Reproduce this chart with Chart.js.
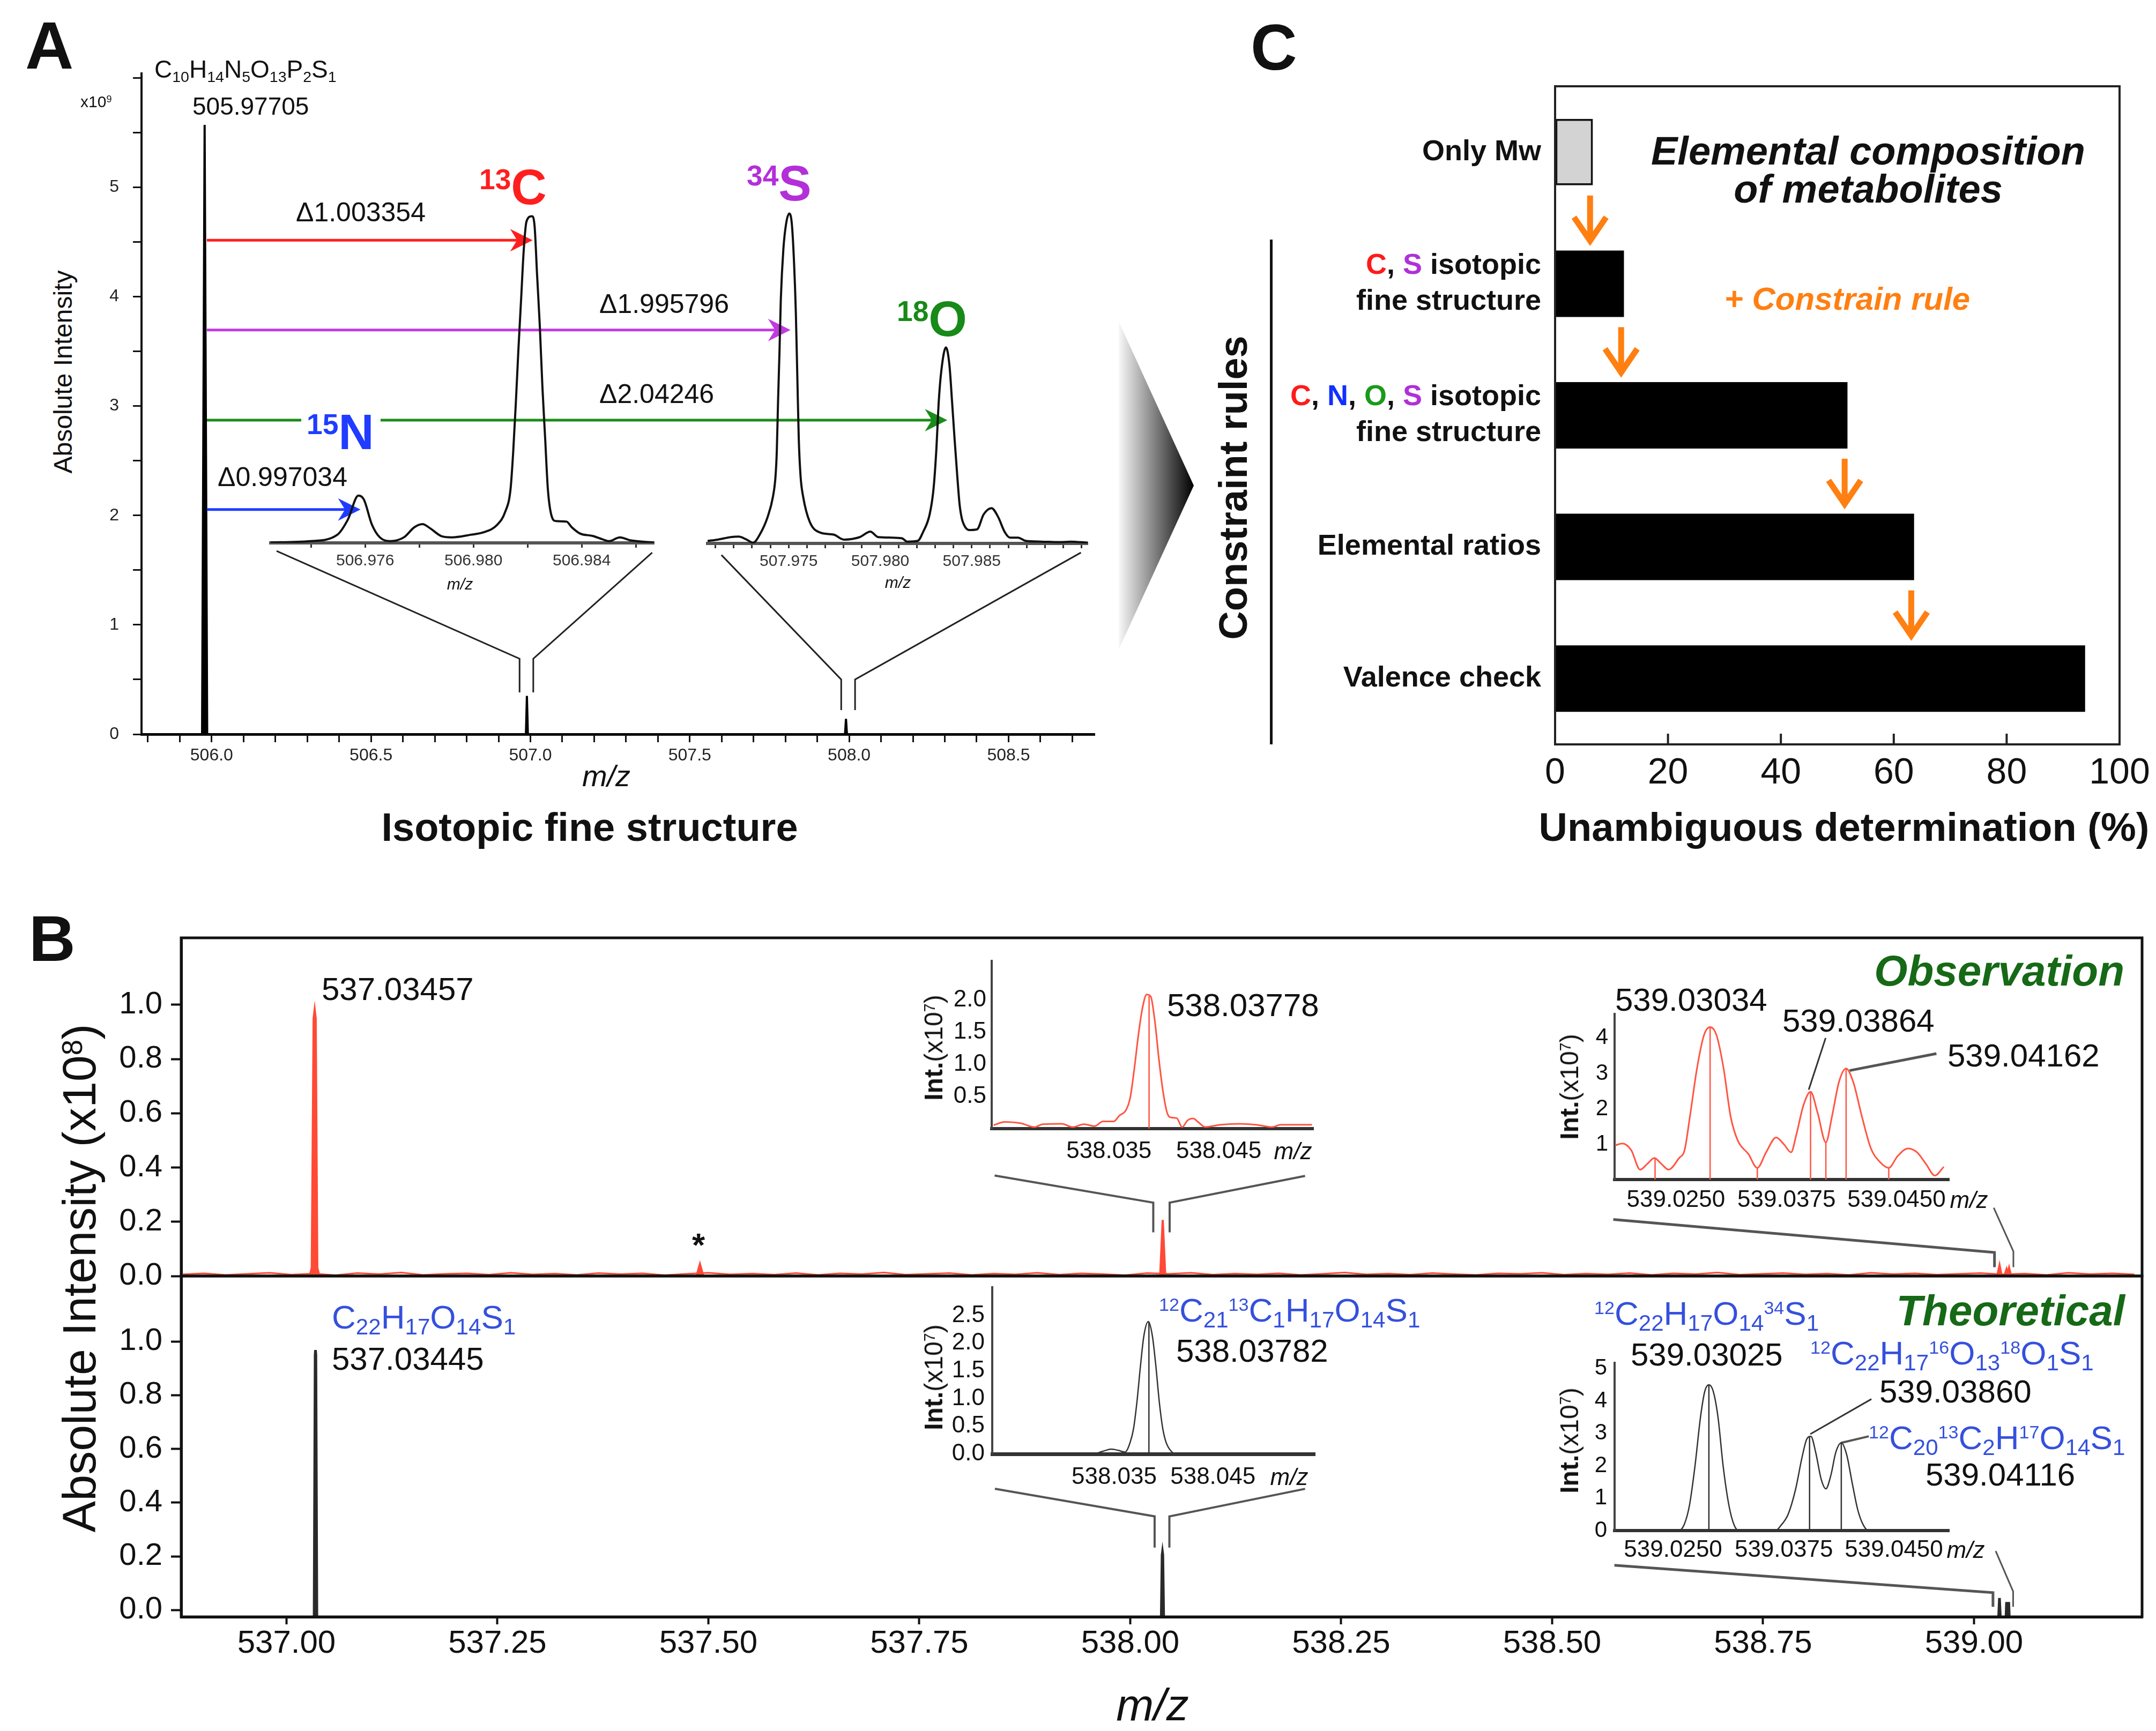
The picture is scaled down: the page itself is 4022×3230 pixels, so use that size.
<!DOCTYPE html>
<html><head><meta charset="utf-8"><title>Isotopic fine structure</title>
<script src="https://cdn.jsdelivr.net/npm/chart.js@4.4.1/dist/chart.umd.min.js"></script>
<style>
html,body{margin:0;padding:0;background:#fff;}
#page{position:relative;width:4022px;height:3230px;overflow:hidden;background:#fff;font-family:"Liberation Sans",Arial,Helvetica,sans-serif;color:#111;}
#page canvas{position:absolute;}
.t{position:absolute;white-space:nowrap;line-height:1;z-index:10;}
.deco{position:absolute;z-index:1;}
</style></head>
<body><div id="page"></div>
<script>
const FONT = '"Liberation Sans", Arial, Helvetica, sans-serif';

// ================= DATA =================
// ---- Panel A : main spectrum ----
const specA_mz  = [505.78, 505.970, 505.978, 505.986, 506.986, 506.989, 506.992, 507.987, 507.990, 507.993, 508.77];
const specA_int = [0, 0, 5.57, 0, 0, 0.35, 0, 0, 0.14, 0, 0];
const tickA_xLabeled = [506.0, 506.5, 507.0, 507.5, 508.0, 508.5];
const tickA_yLabeled = [0, 1, 2, 3, 4, 5];
// isotope arrows (start at the monoisotopic peak)
const arrowA_start = 505.985;
const arrowA_end   = [507.007, 507.816, 508.308, 506.467];
const arrowA_y     = [4.515, 3.695, 2.870, 2.054];
const arrowA_color = ['#ff1e1e', '#c03ae0', '#1a8c1a', '#1e3cff'];
// inset 1 (15N / 13C)
const insA1_mz  = [506.97250, 506.97398, 506.97497, 506.97536, 506.97575, 506.97595, 506.97625, 506.97654, 506.97694, 506.97743, 506.97782, 506.97812, 506.97841, 506.97881, 506.97920, 506.97989, 506.98038, 506.98088, 506.98117, 506.98137, 506.98147, 506.98157, 506.98166, 506.98176, 506.98186, 506.98196, 506.98216, 506.98226, 506.98235, 506.98245, 506.98255, 506.98265, 506.98275, 506.98290, 506.98304, 506.98344, 506.98363, 506.98393, 506.98442, 506.98482, 506.98501, 506.98541, 506.98580, 506.98666];
const insA1_int = [0.15, 0.54, 2.48, 7.12, 14.47, 13.31, 5.57, 1.70, 0.54, 1.70, 4.80, 5.73, 4.41, 2.09, 1.70, 2.48, 3.25, 5.57, 9.44, 16.41, 28.0, 43.5, 59.0, 74.4, 89.9, 98.4, 100, 96.9, 82.2, 66.7, 47.4, 31.9, 16.4, 7.9, 6.7, 6.5, 4.8, 2.9, 2.1, 0.93, 0.54, 1.70, 0.77, 0.15];
const tickA1_labeled = [506.976, 506.980, 506.984];
// inset 2 (34S / 18O)
const insA2_mz  = [507.97057, 507.97112, 507.97183, 507.97227, 507.97270, 507.97306, 507.97342, 507.97385, 507.97414, 507.97428, 507.97435, 507.97442, 507.97450, 507.97457, 507.97471, 507.97486, 507.97503, 507.97517, 507.97529, 507.97539, 507.97547, 507.97555, 507.97565, 507.97579, 507.97615, 507.97673, 507.97745, 507.97802, 507.97888, 507.97946, 507.97989, 507.98061, 507.98119, 507.98147, 507.98205, 507.98234, 507.98270, 507.98291, 507.98306, 507.98320, 507.98334, 507.98359, 507.98378, 507.98392, 507.98406, 507.98421, 507.98435, 507.98464, 507.98493, 507.98529, 507.98565, 507.98608, 507.98644, 507.98680, 507.98709, 507.98752, 507.98795, 507.98881, 507.98982, 507.99040, 507.99133];
const insA2_int = [0.77, 1.16, 1.93, 2.09, 1.16, 0.23, 2.7, 8.1, 14.3, 20.5, 28.2, 43.7, 59.2, 74.7, 90.1, 97.9, 101.0, 97.9, 86.3, 70.8, 51.5, 32.1, 20.5, 14.3, 6.6, 3.3, 2.7, 1.16, 1.93, 3.6, 1.93, 1.78, 1.55, 0.54, 0.77, 3.48, 8.9, 16.6, 28.2, 43.7, 53.0, 60.0, 54.6, 43.7, 32.1, 20.5, 11.2, 5.0, 4.1, 4.3, 8.9, 10.8, 8.1, 3.5, 1.78, 1.78, 0.77, 0.54, 0.39, 0.54, 0.23];
const tickA2_labeled = [507.975, 507.980, 507.985];
// zoom cones (main-axis coordinates)
const coneA = [
  [[506.2037, 1.675], [506.9660, 0.690], [506.9660, 0.382]],
  [[507.3820, 1.660], [507.0090, 0.690], [507.0090, 0.382]],
  [[507.5993, 1.638], [507.9750, 0.500], [507.9750, 0.220]],
  [[508.7270, 1.660], [508.0185, 0.500], [508.0185, 0.220]]
];

// ---- Panel C ----
const catLines = [['Only Mw'], ['C, S isotopic', 'fine structure'], ['C, N, O, S isotopic', 'fine structure'], ['Elemental ratios'], ['Valence check']];
const barVals   = [6.7, 12.2, 51.8, 63.6, 93.9];
const barColors = ['#d3d3d3', '#000', '#000', '#000', '#000'];
const tickC_x   = [0, 20, 40, 60, 80, 100];

// ---- Panel B : full spectra ----
const obs_mz  = [537.0275, 537.0300, 537.0322, 537.0334, 537.0346, 537.0365, 537.0390, 537.4860, 537.4900, 537.4940, 538.0355, 538.0385, 538.0415, 539.0275, 539.0303, 539.0325, 539.0365, 539.0386, 539.0400, 539.0416, 539.0440];
const obs_int = [0, 0.03, 0.95, 0.982, 0.95, 0.03, 0, 0, 0.044, 0, 0, 0.207, 0, 0, 0.04, 0.005, 0.005, 0.025, 0.01, 0.03, 0];
const noise_start = 536.876, noise_step = 0.026;
const noise_int = [0.006,0.010,0.004,0.008,0.012,0.005,0.009,0.003,0.011,0.007,0.013,0.004,0.008,0.010,0.005,0.012,0.006,0.009,0.004,0.011,0.007,0.010,0.003,0.008,0.012,0.006,0.009,0.005,0.011,0.004,0.010,0.007,0.013,0.005,0.008,0.011,0.004,0.009,0.006,0.012,0.005,0.010,0.007,0.003,0.011,0.008,0.012,0.005,0.009,0.006,0.010,0.004,0.008,0.013,0.006,0.009,0.005,0.011,0.007,0.004,0.010,0.008,0.012,0.005,0.009,0.006,0.011,0.004,0.010,0.007,0.013,0.005,0.008,0.011,0.006,0.009,0.004,0.012,0.007,0.010,0.005,0.008,0.011,0.006,0.009,0.004,0.012,0.007,0.010,0.006];
// theoretical sticks (null = break between peaks)
const theo_mz  = [537.0328, 537.0340, 537.0344, 537.0348, 537.0360, 537.5, 538.0368, 538.0378, 538.0382, 538.0386, 538.0396, 538.5, 539.0292, 539.0302, 539.0312, 539.0350, 539.0380, 539.0386, 539.0392, 539.0400, 539.0406, 539.0412, 539.0418];
const theo_int = [-0.025, 0.95, 0.968, 0.95, -0.025, null, -0.025, 0.205, 0.215, 0.205, -0.025, null, -0.025, 0.045, -0.025, null, -0.025, 0.03, -0.025, null, -0.025, 0.03, -0.025];
const tickB_x = [537.00, 537.25, 537.50, 537.75, 538.00, 538.25, 538.50, 538.75, 539.00];
const tickB_y = [0, 0.2, 0.4, 0.6, 0.8, 1.0];
const coneObs = [
  [[537.8393, 0.3704], [538.0273, 0.2705], [538.0273, 0.161]],
  [[538.2072, 0.3692], [538.0467, 0.2705], [538.0467, 0.161]],
  [[538.5725, 0.2087], [539.0243, 0.0869], [539.0243, 0.0328]],
  [[539.0234, 0.2517], [539.0467, 0.0908], [539.0467, 0.0328]]
];
const coneTheo = [
  [[537.8396, 0.4515], [538.0289, 0.3489], [538.0289, 0.2329]],
  [[538.2072, 0.4515], [538.0464, 0.3489], [538.0464, 0.2329]],
  [[538.5738, 0.1671], [539.0225, 0.0653], [539.0225, 0.0124]],
  [[539.0257, 0.2200], [539.0464, 0.0695], [539.0464, 0.0124]]
];
// ---- Panel B insets ----
const obs1_mz  = [538.02076, 538.02197, 538.02379, 538.02530, 538.02621, 538.02833, 538.02955, 538.03076, 538.03197, 538.03288, 538.03409, 538.03470, 538.03545, 538.03591, 538.03636, 538.03682, 538.03727, 538.03773, 538.03818, 538.03864, 538.03909, 538.03955, 538.04000, 538.04045, 538.04106, 538.04167, 538.04227, 538.04288, 538.04348, 538.04424, 538.04500, 538.04591, 538.04803, 538.04985, 538.05167, 538.05257, 538.05470, 538.05606];
const obs1_int = [0.054, 0.105, 0.084, 0.024, 0.069, 0.075, 0.024, 0.069, 0.039, 0.113, 0.113, 0.202, 0.291, 0.484, 0.929, 1.464, 1.879, 2.087, 2.057, 1.672, 1.078, 0.573, 0.247, 0.173, 0.164, 0.024, 0.128, 0.158, 0.098, 0.024, 0.039, 0.06, 0.075, 0.06, 0.024, 0.06, 0.06, 0.06];
const obs1_stick_mz = [538.0380], obs1_stick_h = [2.06];
const obs2_mz  = [539.02246, 539.02306, 539.02379, 539.02453, 539.02512, 539.02571, 539.02630, 539.02689, 539.02777, 539.02822, 539.02866, 539.02925, 539.02983, 539.03034, 539.03087, 539.03146, 539.03205, 539.03264, 539.03352, 539.03426, 539.03499, 539.03582, 539.03647, 539.03706, 539.03750, 539.03809, 539.03868, 539.03927, 539.03995, 539.04045, 539.04104, 539.04163, 539.04222, 539.04295, 539.04369, 539.04443, 539.04517, 539.04590, 539.04678, 539.04752, 539.04826, 539.04900, 539.04974];
const obs2_int = [0.967, 1.02, 0.83, 0.28, 0.44, 0.61, 0.44, 0.28, 0.61, 0.83, 1.77, 3.14, 4.08, 4.31, 4.08, 3.14, 1.77, 1.10, 0.72, 0.33, 0.77, 1.19, 0.995, 0.77, 1.27, 2.10, 2.48, 1.88, 1.05, 1.77, 2.76, 3.14, 2.76, 1.77, 0.88, 0.50, 0.33, 0.66, 0.88, 0.77, 0.44, 0.11, 0.36];
const obs2_stick_mz = [539.02577, 539.03034, 539.03426, 539.03868, 539.03995, 539.04163, 539.04517];
const obs2_stick_h  = [0.61, 4.31, 0.33, 2.48, 1.05, 3.14, 0.33];
const obs2_leaders  = [[[539.03993, 4.0], [539.03853, 2.54]], [[539.04913, 3.56], [539.04192, 3.08]]];
const theo1_mz  = [538.02019, 538.03146, 538.03262, 538.03358, 538.03435, 538.03511, 538.03569, 538.03608, 538.03646, 538.03685, 538.03723, 538.03773, 538.03819, 538.03858, 538.03896, 538.03935, 538.03973, 538.04031, 538.04089, 538.05647];
const theo1_int = [0, 0, 0.048, 0.087, 0.065, 0.033, 0.21, 0.465, 0.95, 1.59, 2.13, 2.39, 2.13, 1.59, 0.95, 0.465, 0.21, 0.048, 0, 0];
const theo1_stick_mz = [538.0378], theo1_stick_h = [2.39];
const theo2_mz  = [539.02238, 539.02768, 539.02814, 539.02859, 539.02905, 539.02950, 539.02986, 539.03020, 539.03056, 539.03096, 539.03138, 539.03186, 539.03229, 539.03269, 539.03572, 539.03617, 539.03678, 539.03738, 539.03793, 539.03830, 539.03866, 539.03906, 539.03951, 539.03990, 539.04033, 539.04072, 539.04118, 539.04163, 539.04209, 539.04254, 539.04300, 539.04345, 539.05012];
const theo2_int = [0, 0, 0.175, 0.78, 2.0, 3.49, 4.30, 4.50, 4.30, 3.49, 2.0, 0.78, 0.175, 0, 0, 0.157, 0.51, 1.26, 2.27, 2.81, 2.91, 2.41, 1.59, 1.29, 1.73, 2.41, 2.71, 2.34, 1.46, 0.65, 0.175, 0, 0];
const theo2_stick_mz = [539.03020, 539.03855, 539.04118], theo2_stick_h = [4.5, 2.9, 2.71];
const theo2_leaders  = [[[539.04368, 4.06], [539.03861, 2.98]], [[539.04346, 2.91], [539.04118, 2.71]]];
const tickBi1_x = [538.035, 538.045];
const tickObs1_y = [0.5, 1.0, 1.5, 2.0];
const tickTheo1_y = [0, 0.5, 1.0, 1.5, 2.0, 2.5];
const tickBi2_x = [539.0275, 539.0375, 539.0450];
const tickBi2_xLabels = ['539.0250', '539.0375', '539.0450'];
const tickObs2_y = [1, 2, 3, 4];
const tickTheo2_y = [0, 1, 2, 3, 4, 5];
// label nudges for the inset tick labels (in space widths; <0 = left, >0 = right)
const nudgeObs1 = [-4, 2], nudgeTheo1 = [-3, 0], nudgeObs2 = [0, -3, 3], nudgeTheo2 = [-1, -4, 2];

// ================= HELPERS =================
const page = document.getElementById('page');
Chart.defaults.font.family = FONT;
Chart.defaults.color = '#111';
const near = (v, arr) => arr.some(a => Math.abs(a - v) < 1e-7);
const seq = (a, n, st) => Array.from({length: n}, (_, i) => +(a + i * st).toFixed(5));
const pts = (xs, ys) => xs.map((x, i) => ({x, y: ys[i]}));
const sticks = (xs, hs) => xs.flatMap((x, i) => [{x, y: 0}, {x, y: hs[i]}, {x, y: null}]);
const nudge = (s, n) => n < 0 ? s + ' '.repeat(-n) : ' '.repeat(n) + s;
const RED = '#ff4a36', RED_I = '#ff5542', BLUE = '#3550dd', DKGREEN = '#166916';

function mkChart(area, m, cfg) {
  const [L, T, R, B] = area, [ml, mt, mr, mb] = m;
  const c = document.createElement('canvas');
  const w = R - L + ml + mr, h = B - T + mt + mb;
  c.width = w; c.height = h;
  Object.assign(c.style, {left: (L - ml) + 'px', top: (T - mt) + 'px', width: w + 'px', height: h + 'px'});
  page.appendChild(c);
  const o = cfg.options = cfg.options || {};
  o.responsive = false; o.animation = false; o.events = [];
  o.layout = {padding: {top: mt, right: mr, left: 0, bottom: 0}};
  o.plugins = Object.assign({legend: {display: false}, tooltip: {enabled: false}, filler: {propagate: false}}, o.plugins || {});
  for (const k in o.scales) {
    const s = o.scales[k]; const isX = k[0] === 'x';
    s.afterFit = sc => { if (isX) sc.height = mb; else sc.width = ml; sc.paddingLeft = 0; sc.paddingRight = 0; sc.paddingTop = 0; sc.paddingBottom = 0; };
  }
  return new Chart(c, cfg);
}
function lin(pos, o) {
  return {
    type: 'linear', position: pos, min: o.min, max: o.max, bounds: 'data',
    afterBuildTicks: s => { s.ticks = (o.ticks || []).map(v => ({value: v})); },
    ticks: {display: o.showLabels !== false, autoSkip: false, maxRotation: 0, minRotation: 0, padding: o.pad || 0,
      color: o.color || '#111', font: {size: o.fs || 30}, callback: o.cb || (v => String(v))},
    grid: {display: true, drawOnChartArea: false, drawTicks: !!o.tl, tickLength: o.tl || 0, tickWidth: o.tw || 3,
      tickColor: o.tcol || '#111', color: 'rgba(0,0,0,0)'},
    border: {display: (o.bw || 0) > 0, width: o.bw || 1, color: o.bc || '#111'}
  };
}
function polyPlugin(id, lines, color, widths) {
  return {id, afterDatasetsDraw(ch) {
    const {ctx, scales: {x, y}} = ch; ctx.save(); ctx.strokeStyle = color; ctx.lineJoin = 'miter';
    lines.forEach((ln, i) => { ctx.lineWidth = Array.isArray(widths) ? widths[i] : widths; ctx.beginPath();
      ln.forEach((p, j) => { const px = x.getPixelForValue(p[0]), py = y.getPixelForValue(p[1]); j ? ctx.lineTo(px, py) : ctx.moveTo(px, py); });
      ctx.stroke(); });
    ctx.restore(); }};
}
function boxPlugin(id, lw, color) {
  return {id, afterDraw(ch) { const {ctx, chartArea: a} = ch; ctx.save(); ctx.lineWidth = lw; ctx.strokeStyle = color;
    ctx.strokeRect(a.left, a.top, a.right - a.left, a.bottom - a.top); ctx.restore(); }};
}
const arrowsA = {id: 'arrowsA', afterDatasetsDraw(ch) {
  const {ctx, scales: {x, y}} = ch; ctx.save();
  arrowA_y.forEach((yv, i) => {
    const x0 = x.getPixelForValue(arrowA_start), x1 = x.getPixelForValue(arrowA_end[i]), py = y.getPixelForValue(yv);
    ctx.strokeStyle = ctx.fillStyle = arrowA_color[i]; ctx.lineWidth = 5;
    ctx.beginPath(); ctx.moveTo(x0, py); ctx.lineTo(x1 - 26, py); ctx.stroke();
    ctx.beginPath(); ctx.moveTo(x1, py); ctx.lineTo(x1 - 42, py - 21); ctx.lineTo(x1 - 29, py); ctx.lineTo(x1 - 42, py + 21); ctx.closePath(); ctx.fill();
  });
  ctx.restore(); }};
const elemColor = {C: '#ff1a1a', N: '#1030ff', O: '#1a9a1a', S: '#b030d8'};
function drawColored(ctx, line, rightX, y) {
  const parts = line.split(/\b([CNOS])\b/).filter(s => s.length);
  const total = parts.reduce((s, p) => s + ctx.measureText(p).width, 0);
  let xx = rightX - total;
  parts.forEach(p => { ctx.fillStyle = elemColor[p] || '#111'; ctx.fillText(p, xx, y); xx += ctx.measureText(p).width; });
}
const decorC = {id: 'decorC', afterDraw(ch) {
  const {ctx, chartArea: a, scales: {x, y}} = ch; ctx.save();
  ctx.lineWidth = 4; ctx.strokeStyle = '#222'; ctx.strokeRect(a.left, a.top, a.right - a.left, a.bottom - a.top);
  x.ticks.forEach(t => { const px = x.getPixelForValue(t.value); ctx.beginPath(); ctx.moveTo(px, a.bottom); ctx.lineTo(px, a.bottom - 20); ctx.stroke(); });
  ctx.font = 'bold 54px ' + FONT; ctx.textBaseline = 'middle'; ctx.textAlign = 'left';
  catLines.forEach((lines, i) => { const cy = y.getPixelForValue(i); const n = lines.length;
    lines.forEach((ln, j) => drawColored(ctx, ln, a.left - 26, cy + (j - (n - 1) / 2) * 67)); });
  ctx.strokeStyle = '#ff7f11'; ctx.lineWidth = 11; ctx.lineCap = 'butt'; ctx.lineJoin = 'miter';
  for (let i = 1; i < barVals.length; i++) {
    const px = x.getPixelForValue(barVals[i - 1] - 0.5), y0 = y.getPixelForValue(i - 1 + 0.33), y1 = y.getPixelForValue(i - 0.31);
    ctx.beginPath(); ctx.moveTo(px, y0); ctx.lineTo(px, y1 - 6); ctx.stroke();
    ctx.beginPath(); ctx.moveTo(px - 30, y1 - 48); ctx.lineTo(px, y1 - 4); ctx.lineTo(px + 30, y1 - 48); ctx.stroke();
  }
  ctx.restore(); }};

// text helpers
const sb = (s, k = 0.68) => `<span style="font-size:${k}em;vertical-align:${(-0.18 / k).toFixed(3)}em">${s}</span>`;
const sp = (s, k = 0.55) => `<span style="font-size:${k}em;vertical-align:${(0.716 / k - 0.716).toFixed(3)}em">${s}</span>`;
function el(html, x, y, fs, o = {}) {
  const d = document.createElement('div'); d.className = 't'; d.innerHTML = html;
  d.style.fontSize = fs + 'px';
  if (o.w) d.style.fontWeight = o.w; if (o.s) d.style.fontStyle = o.s; if (o.c) d.style.color = o.c;
  if (o.bg) { d.style.background = o.bg; d.style.padding = o.pad || '0'; }
  d.style.left = x + 'px';
  if (o.rot) { d.style.top = y + 'px'; d.style.transform = 'translate(-50%,-50%) rotate(-90deg)'; }
  else { d.style.top = (y - 0.49 * fs) + 'px';
    if (o.a === 'c') d.style.transform = 'translateX(-50%)'; if (o.a === 'r') d.style.transform = 'translateX(-100%)'; }
  page.appendChild(d); return d;
}
function deco(css) { const d = document.createElement('div'); d.className = 'deco'; Object.assign(d.style, css); page.appendChild(d); }

// ================= PANEL A =================
mkChart([264, 137, 2042, 1370], [104, 20, 40, 70], {type: 'line',
  data: {datasets: [{data: pts(specA_mz, specA_int), borderColor: '#000', borderWidth: 4, pointRadius: 0, tension: 0,
    fill: 'origin', backgroundColor: '#000'}]},
  options: {scales: {
    x: lin('bottom', {min: 505.78, max: 508.77, ticks: seq(505.8, 30, 0.1), fs: 32, pad: 6, tl: 15, tw: 3, bw: 5, color: '#222',
      cb: v => near(v, tickA_xLabeled) ? v.toFixed(1) : ''}),
    y: lin('left', {min: 0, max: 6.04, ticks: seq(0, 13, 0.5), fs: 32, pad: 26, tl: 16, tw: 3, bw: 4, color: '#222',
      cb: v => near(v, tickA_yLabeled) ? String(v) : ''})
  }},
  plugins: [polyPlugin('coneA', coneA, '#222', 3), arrowsA]});

mkChart([505, 373, 1220, 1013], [20, 10, 20, 60], {type: 'line',
  data: {datasets: [{data: pts(insA1_mz, insA1_int), borderColor: '#111', borderWidth: 4, pointRadius: 0, cubicInterpolationMode: 'monotone'}]},
  options: {scales: {
    x: lin('bottom', {min: 506.97251, max: 506.98667, ticks: seq(506.974, 7, 0.002), fs: 30, pad: 7, tl: 9, tw: 3, bw: 6, bc: '#555', tcol: '#333', color: '#333',
      cb: v => near(v, tickA1_labeled) ? v.toFixed(3) : ''}),
    y: lin('left', {min: 0, max: 105, ticks: [], showLabels: false, bw: 0})
  }}});

mkChart([1320, 374, 2029, 1014], [20, 10, 20, 60], {type: 'line',
  data: {datasets: [{data: pts(insA2_mz, insA2_int), borderColor: '#111', borderWidth: 4, pointRadius: 0, cubicInterpolationMode: 'monotone'}]},
  options: {scales: {
    x: lin('bottom', {min: 507.97057, max: 507.99133, ticks: seq(507.971, 21, 0.001), fs: 30, pad: 7, tl: 9, tw: 3, bw: 6, bc: '#555', tcol: '#333', color: '#333',
      cb: v => near(v, tickA2_labeled) ? v.toFixed(3) : ''}),
    y: lin('left', {min: 0, max: 105, ticks: [], showLabels: false, bw: 0})
  }}});

// ================= PANEL C =================
mkChart([2901, 161, 3954, 1389], [511, 10, 60, 110], {type: 'bar',
  data: {labels: catLines.map(l => l.join(' ')), datasets: [{data: barVals, backgroundColor: barColors, borderColor: '#111',
    borderWidth: [4, 0, 0, 0, 0], borderSkipped: false, barPercentage: 0.505, categoryPercentage: 1}]},
  options: {indexAxis: 'y', scales: {
    x: lin('bottom', {min: 0, max: 100, ticks: tickC_x, fs: 68, pad: 13, tl: 0, bw: 0, cb: v => String(v)}),
    y: {type: 'category', position: 'left', ticks: {display: false}, grid: {display: false}, border: {display: false}}
  }},
  plugins: [decorC]});

// ================= PANEL B =================
const xB = {min: 536.8752, max: 539.1992};
mkChart([338, 1750, 3996, 2381], [138, 10, 15, 40], {type: 'line',
  data: {datasets: [
    {data: noise_int.map((v, i) => ({x: noise_start + i * noise_step, y: v})), borderColor: RED, borderWidth: 3, pointRadius: 0},
    {data: pts(obs_mz, obs_int), borderColor: RED, borderWidth: 4, pointRadius: 0, fill: 'origin', backgroundColor: RED}]},
  options: {scales: {
    x: lin('bottom', {min: xB.min, max: xB.max, ticks: [], showLabels: false, bw: 0}),
    y: lin('left', {min: 0, max: 1.247, ticks: tickB_y, fs: 58, pad: 16, tl: 19, tw: 4, bw: 5, cb: v => v.toFixed(1)})
  }},
  plugins: [polyPlugin('coneObs', coneObs, '#555', [4, 4, 5, 3]), boxPlugin('boxObs', 5, '#111')]});

mkChart([338, 2381, 3996, 3017], [138, 10, 15, 95], {type: 'line',
  data: {datasets: [{data: pts(theo_mz, theo_int), borderColor: '#2a2a2a', borderWidth: 5, pointRadius: 0, spanGaps: false,
    fill: 'start', backgroundColor: '#2a2a2a'}]},
  options: {scales: {
    x: lin('bottom', {min: xB.min, max: xB.max, ticks: tickB_x, fs: 60, pad: 0, tl: 14, tw: 4, bw: 5, cb: v => v.toFixed(2)}),
    y: lin('left', {min: -0.025, max: 1.2435, ticks: tickB_y, fs: 58, pad: 16, tl: 19, tw: 4, bw: 5, cb: v => v.toFixed(1)})
  }},
  plugins: [polyPlugin('coneTheo', coneTheo, '#555', [4, 4, 5, 3]), boxPlugin('boxTheo', 5, '#111')]});

// insets B
mkChart([1850, 1793, 2450, 2106], [100, 10, 20, 70], {type: 'line',
  data: {datasets: [
    {data: pts(obs1_mz, obs1_int), borderColor: RED_I, borderWidth: 3, pointRadius: 0, cubicInterpolationMode: 'monotone'},
    {data: sticks(obs1_stick_mz, obs1_stick_h), borderColor: RED_I, borderWidth: 2.5, pointRadius: 0}]},
  options: {scales: {
    x: lin('bottom', {min: 538.02055, max: 538.05621, ticks: tickBi1_x, fs: 44, pad: 16, tl: 0, bw: 6, bc: '#333',
      cb: (v, i) => nudge(v.toFixed(3), nudgeObs1[i])}),
    y: lin('left', {min: 0, max: 2.61, ticks: tickObs1_y, fs: 44, pad: 10, tl: 0, bw: 4, bc: '#444', cb: v => v.toFixed(1)})
  }}});

mkChart([3012, 1892, 3636, 2201], [70, 10, 20, 70], {type: 'line',
  data: {datasets: [
    {data: pts(obs2_mz, obs2_int), borderColor: RED_I, borderWidth: 3, pointRadius: 0, cubicInterpolationMode: 'monotone'},
    {data: sticks(obs2_stick_mz, obs2_stick_h), borderColor: RED_I, borderWidth: 2.5, pointRadius: 0},
    {data: obs2_leaders[0].map(p => ({x: p[0], y: p[1]})), borderColor: '#333', borderWidth: 3, pointRadius: 0},
    {data: obs2_leaders[1].map(p => ({x: p[0], y: p[1]})), borderColor: '#555', borderWidth: 5, pointRadius: 0}]},
  options: {scales: {
    x: lin('bottom', {min: 539.02241, max: 539.05018, ticks: tickBi2_x, fs: 44, pad: 12, tl: 0, bw: 6, bc: '#333',
      cb: (v, i) => nudge(tickBi2_xLabels[i], nudgeObs2[i])}),
    y: lin('left', {min: 0, max: 4.68, ticks: tickObs2_y, fs: 42, pad: 12, tl: 0, bw: 4, bc: '#444', cb: v => String(v)})
  }}});

mkChart([1851, 2402, 2453, 2713], [100, 6, 20, 70], {type: 'line',
  data: {datasets: [
    {data: pts(theo1_mz, theo1_int), borderColor: '#333', borderWidth: 2.5, pointRadius: 0, cubicInterpolationMode: 'monotone'},
    {data: sticks(theo1_stick_mz, theo1_stick_h), borderColor: '#333', borderWidth: 2.5, pointRadius: 0}]},
  options: {scales: {
    x: lin('bottom', {min: 538.02018, max: 538.05647, ticks: tickBi1_x, fs: 44, pad: 17, tl: 0, bw: 7, bc: '#333',
      cb: (v, i) => nudge(v.toFixed(3), nudgeTheo1[i])}),
    y: lin('left', {min: 0, max: 3.01, ticks: tickTheo1_y, fs: 44, pad: 14, tl: 0, bw: 4, bc: '#444', cb: v => v.toFixed(1)})
  }}});

mkChart([3012, 2543, 3636, 2856], [70, 10, 20, 70], {type: 'line',
  data: {datasets: [
    {data: pts(theo2_mz, theo2_int), borderColor: '#333', borderWidth: 2.5, pointRadius: 0, cubicInterpolationMode: 'monotone'},
    {data: sticks(theo2_stick_mz, theo2_stick_h), borderColor: '#333', borderWidth: 2.5, pointRadius: 0},
    {data: theo2_leaders[0].map(p => ({x: p[0], y: p[1]})), borderColor: '#333', borderWidth: 3, pointRadius: 0},
    {data: theo2_leaders[1].map(p => ({x: p[0], y: p[1]})), borderColor: '#555', borderWidth: 4, pointRadius: 0}]},
  options: {scales: {
    x: lin('bottom', {min: 539.02238, max: 539.05012, ticks: tickBi2_x, fs: 44, pad: 10, tl: 0, bw: 6, bc: '#333',
      cb: (v, i) => nudge(tickBi2_xLabels[i], nudgeTheo2[i])}),
    y: lin('left', {min: 0, max: 5.18, ticks: tickTheo2_y, fs: 42, pad: 14, tl: 0, bw: 4, bc: '#444', cb: v => String(v)})
  }}});

// ================= TEXT & DECORATION =================
// Panel A
el('A', 47, 83, 125, {w: 'bold'});
el(`C${sb(10, .62)}H${sb(14, .62)}N${sb(5, .62)}O${sb(13, .62)}P${sb(2, .62)}S${sb(1, .62)}`, 288, 129, 46);
el(`x10${sp(9, .6)}`, 150, 190, 30);
el('505.97705', 359, 198, 46);
el('Absolute Intensity', 118, 694, 48, {rot: true});
el('m/z', 1131, 1447, 56, {s: 'italic', a: 'c'});
el('Isotopic fine structure', 1100, 1543, 74, {w: 'bold', a: 'c'});
el(`${sp('13', .58)}C`, 894, 348, 92, {w: 'bold', c: '#ff1e1e'});
el(`${sp('34', .58)}S`, 1393, 341, 92, {w: 'bold', c: '#b32fd9'});
el(`${sp('18', .58)}O`, 1673, 594, 92, {w: 'bold', c: '#178a17'});
el(`${sp('15', .58)}N`, 562, 805, 92, {w: 'bold', c: '#1f3cff', bg: '#fff', pad: '0 12px 0 10px'});
el('Δ1.003354', 552, 395, 50);
el('Δ1.995796', 1118, 566, 50);
el('Δ2.04246', 1118, 734, 50);
el('Δ0.997034', 406, 889, 50);
el('m/z', 858, 1090, 30, {s: 'italic', a: 'c'});
el('m/z', 1675, 1087, 30, {s: 'italic', a: 'c'});
// arrow between panels
deco({left: '2087px', top: '600px', width: '140px', height: '612px', clipPath: 'polygon(0 0, 100% 50%, 0 100%)',
  background: 'linear-gradient(to right, #f8f8f8, #000)'});
// Panel C
el('C', 2333, 87, 120, {w: 'bold'});
el('Elemental composition', 3485, 281, 74, {w: 'bold', s: 'italic', a: 'c'});
el('of metabolites', 3485, 352, 74, {w: 'bold', s: 'italic', a: 'c'});
el('+ Constrain rule', 3446, 557, 60, {w: 'bold', s: 'italic', a: 'c', c: '#ff7f11'});
el('Constraint rules', 2301, 910, 74, {w: 'bold', rot: true});
deco({left: '2369px', top: '447px', width: '5px', height: '942px', background: '#111'});
el('Unambiguous determination (%)', 3440, 1543, 74, {w: 'bold', a: 'c'});
// Panel B
el('B', 54, 1750, 120, {w: 'bold'});
el(`Absolute Intensity (x10${sp(8, .6)})`, 148, 2385, 88, {rot: true});
el('537.03457', 600, 1845, 60);
el('*', 1303, 2322, 62, {a: 'c', w: 'bold'});
el('538.03778', 2177, 1875, 60);
el('539.03034', 3013, 1865, 60);
el('539.03864', 3325, 1904, 60);
el('539.04162', 3633, 1969, 60);
el('Observation', 3963, 1811, 80, {w: 'bold', s: 'italic', c: DKGREEN, a: 'r'});
el(`C${sb(22)}H${sb(17)}O${sb(14)}S${sb(1)}`, 619, 2457, 62, {c: BLUE});
el('537.03445', 619, 2535, 60);
el('Theoretical', 3964, 2445, 80, {w: 'bold', s: 'italic', c: DKGREEN, a: 'r'});
el(`${sp(12)}C${sb(21)}${sp(13)}C${sb(1)}H${sb(17)}O${sb(14)}S${sb(1)}`, 2162, 2444, 62, {c: BLUE});
el('538.03782', 2194, 2520, 60);
el(`${sp(12)}C${sb(22)}H${sb(17)}O${sb(14)}${sp(34)}S${sb(1)}`, 2974, 2450, 62, {c: BLUE});
el('539.03025', 3042, 2527, 60);
el(`${sp(12)}C${sb(22)}H${sb(17)}${sp(16)}O${sb(13)}${sp(18)}O${sb(1)}S${sb(1)}`, 3377, 2524, 62, {c: BLUE});
el('539.03860', 3506, 2596, 60);
el(`${sp(12)}C${sb(20)}${sp(13)}C${sb(2)}H${sp(17)}O${sb(14)}S${sb(1)}`, 3486, 2682, 62, {c: BLUE});
el('539.04116', 3592, 2751, 60);
el('m/z', 2150, 3180, 84, {s: 'italic', a: 'c'});
const intLbl = `<b>Int.</b>(x10${sp(7, .6)})`;
el(intLbl, 1742, 1955, 48, {rot: true});
el(intLbl, 1742, 2570, 48, {rot: true});
el(intLbl, 2928, 2028, 48, {rot: true});
el(intLbl, 2928, 2688, 48, {rot: true});
el('m/z', 2412, 2148, 44, {s: 'italic', a: 'c'});
el('m/z', 3673, 2239, 44, {s: 'italic', a: 'c'});
el('m/z', 2405, 2756, 44, {s: 'italic', a: 'c'});
el('m/z', 3667, 2892, 44, {s: 'italic', a: 'c'});
</script></body></html>
